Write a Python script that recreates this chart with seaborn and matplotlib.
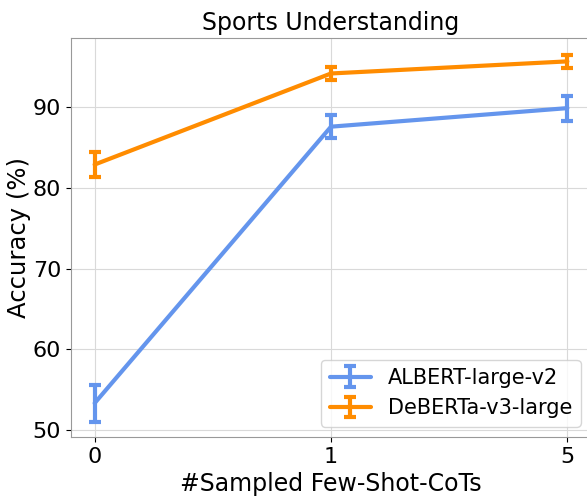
import numpy as np
import pandas as pd
import matplotlib
matplotlib.use("Agg")
import matplotlib.pyplot as plt
import seaborn as sns

# values
shots = ["0", "1", "5"]
albert_mean = [53.3, 87.6, 89.9]
albert_std = [2.3, 1.45, 1.55]
deberta_mean = [82.9, 94.2, 95.7]
deberta_std = [1.5, 0.85, 0.8]

sns.set_style("whitegrid", {"xtick.bottom": True, "ytick.left": True,
                            "axes.edgecolor": "0.6", "grid.color": "0.85",
                            "text.color": "black", "axes.labelcolor": "black",
                            "xtick.color": "black", "ytick.color": "black"})
plt.rcParams["font.family"] = ["DejaVu Sans"]

fig = plt.figure(figsize=(5.87, 4.96), dpi=100)
ax = fig.add_axes([71 / 587, 59 / 496, 520 / 587, 399 / 496])

x = np.arange(len(shots))
ax.errorbar(x, albert_mean, yerr=albert_std, color="cornflowerblue", linewidth=3,
            capsize=4.5, capthick=3, elinewidth=3, label="ALBERT-large-v2")
ax.errorbar(x, deberta_mean, yerr=deberta_std, color="darkorange", linewidth=3,
            capsize=4.5, capthick=3, elinewidth=3, label="DeBERTa-v3-large")

ax.set_xticks(x)
ax.set_xticklabels(shots)
ax.set_yticks([50, 60, 70, 80, 90])
ax.set_ylim(49.1, 98.6)
ax.tick_params(labelsize=16, colors="black")
ax.set_xlabel("#Sampled Few-Shot-CoTs", fontsize=17)
ax.set_ylabel("Accuracy (%)", fontsize=17.5, labelpad=1)
ax.set_title("Sports Understanding", fontsize=17)
ax.legend(loc="lower right", fontsize=15)

fig.savefig("out.png", dpi=100)
